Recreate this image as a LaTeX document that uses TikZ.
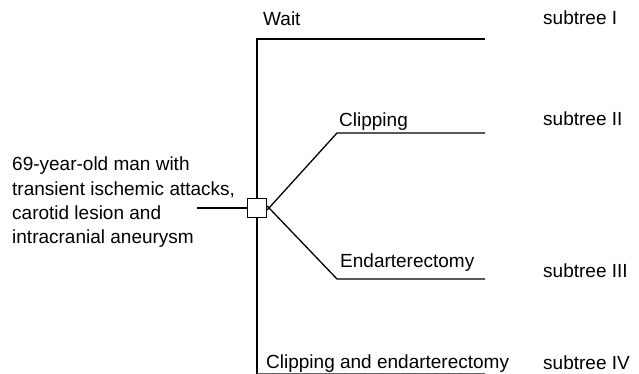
\documentclass[tikz,border=0pt]{standalone}
\usepackage{fontspec}
\setmainfont{Liberation Sans}
\begin{document}
\begin{tikzpicture}[x=1pt,y=-1pt,
  lbl/.style={anchor=base west,inner sep=0pt,font=\fontsize{19}{24}\selectfont},
  branch/.style={line width=1.3pt,black},
  thin/.style={line width=0.5pt,black!60}]
\useasboundingbox (0,0) rectangle (639,374);
% decision square
\node[draw,line width=1.3pt,minimum size=19pt,inner sep=0pt,fill=white] (sq) at (257,208) {};
% coordinates
\coordinate (lin) at (197,208);
\coordinate (top) at (257,39);
\coordinate (topend) at (485,39);
\coordinate (bot) at (257,374);
\coordinate (botend) at (485,373);
\coordinate (cc) at (337,133);
\coordinate (ccend) at (485,133);
\coordinate (ec) at (337,279);
\coordinate (ecend) at (485,279);
% connectors
\draw[branch] (lin) -- (sq.west);
\draw[branch] (sq.north) -- (top) -- (topend);
\draw[branch] (sq.south) -- (bot);
\draw[thin] (bot) ++(0,-1) coordinate (bb) (bb) -- (botend);
\draw[branch] ([yshift=-2pt]sq.east) -- (cc) -- (ccend);
\draw[branch] ([yshift=2pt]sq.east) -- (ec) -- (ecend);
% labels
\node[lbl] (wait) at (263,26) {Wait};
\node[lbl] (clip) at (339,127) {Clipping};
\node[lbl] (endart) at (340,267) {Endarterectomy};
\node[lbl] (both) at (266,368) {Clipping and endarterectomy};
\node[lbl] (s1) at (543,25) {subtree I};
\node[lbl] (s2) at (543,126) {subtree II};
\node[lbl] (s3) at (543,277) {subtree III};
\node[lbl] (s4) at (543,369) {subtree IV};
\node[lbl] (l1) at (12,171) {69-year-old man with};
\node[lbl] (l2) at (12,195) {transient ischemic attacks,};
\node[lbl] (l3) at (12,219) {carotid lesion and};
\node[lbl] (l4) at (12,243) {intracranial aneurysm};
\end{tikzpicture}
\end{document}
